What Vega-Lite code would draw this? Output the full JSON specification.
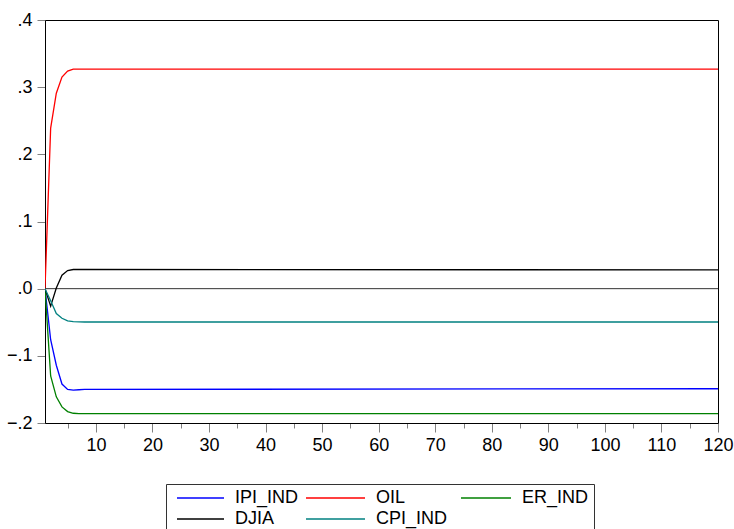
{
  "$schema": "https://vega.github.io/schema/vega-lite/v6.json",
  "width": 673,
  "height": 403,
  "autosize": {"type": "none"},
  "padding": {"left": 45, "top": 20, "right": 16, "bottom": 106},
  "background": "white",
  "config": {
    "font": "Liberation Sans",
    "view": {"stroke": "black", "strokeWidth": 1},
    "axis": {"grid": false, "labelFont": "Liberation Sans", "labelFontSize": 18, "labelColor": "black", "domainColor": "black", "tickColor": "#808080"}
  },
  "data": {
    "values": [
      {"t": 1, "s": "IPI_IND", "v": 0}, {"t": 2, "s": "IPI_IND", "v": -0.076}, {"t": 3, "s": "IPI_IND", "v": -0.114}, {"t": 4, "s": "IPI_IND", "v": -0.142}, {"t": 5, "s": "IPI_IND", "v": -0.150}, {"t": 6, "s": "IPI_IND", "v": -0.151}, {"t": 7, "s": "IPI_IND", "v": -0.1505}, {"t": 8, "s": "IPI_IND", "v": -0.150}, {"t": 120, "s": "IPI_IND", "v": -0.149},
      {"t": 1, "s": "OIL", "v": 0}, {"t": 2, "s": "OIL", "v": 0.239}, {"t": 3, "s": "OIL", "v": 0.291}, {"t": 4, "s": "OIL", "v": 0.315}, {"t": 5, "s": "OIL", "v": 0.324}, {"t": 6, "s": "OIL", "v": 0.327}, {"t": 7, "s": "OIL", "v": 0.327}, {"t": 8, "s": "OIL", "v": 0.327}, {"t": 120, "s": "OIL", "v": 0.327},
      {"t": 1, "s": "ER_IND", "v": 0}, {"t": 2, "s": "ER_IND", "v": -0.13}, {"t": 3, "s": "ER_IND", "v": -0.161}, {"t": 4, "s": "ER_IND", "v": -0.176}, {"t": 5, "s": "ER_IND", "v": -0.183}, {"t": 6, "s": "ER_IND", "v": -0.1855}, {"t": 7, "s": "ER_IND", "v": -0.186}, {"t": 8, "s": "ER_IND", "v": -0.186}, {"t": 120, "s": "ER_IND", "v": -0.186},
      {"t": 1, "s": "DJIA", "v": 0}, {"t": 2, "s": "DJIA", "v": -0.026}, {"t": 3, "s": "DJIA", "v": 0.001}, {"t": 4, "s": "DJIA", "v": 0.020}, {"t": 5, "s": "DJIA", "v": 0.027}, {"t": 6, "s": "DJIA", "v": 0.0285}, {"t": 7, "s": "DJIA", "v": 0.0285}, {"t": 8, "s": "DJIA", "v": 0.0285}, {"t": 120, "s": "DJIA", "v": 0.028},
      {"t": 1, "s": "CPI_IND", "v": 0}, {"t": 2, "s": "CPI_IND", "v": -0.018}, {"t": 3, "s": "CPI_IND", "v": -0.037}, {"t": 4, "s": "CPI_IND", "v": -0.044}, {"t": 5, "s": "CPI_IND", "v": -0.048}, {"t": 6, "s": "CPI_IND", "v": -0.049}, {"t": 7, "s": "CPI_IND", "v": -0.0495}, {"t": 8, "s": "CPI_IND", "v": -0.0496}, {"t": 120, "s": "CPI_IND", "v": -0.0496}
    ]
  },
  "layer": [
    {
      "mark": {"type": "rule", "color": "#333333", "strokeWidth": 1},
      "data": {"values": [{"z": 0}]},
      "encoding": {
        "y": {"field": "z", "type": "quantitative", "scale": {"domain": [-0.2, 0.4], "nice": false, "zero": false}},
        "x": {"datum": 1, "type": "quantitative", "axis": {"orient": "bottom", "values": [5, 15, 25, 35, 45, 55, 65, 75, 85, 95, 105, 115], "labels": false, "domain": false, "tickSize": 5, "title": null}},
        "x2": {"datum": 120}
      }
    },
    {
      "mark": {"type": "line", "strokeWidth": 1.3, "clip": true},
      "encoding": {
        "x": {"field": "t", "type": "quantitative", "scale": {"domain": [1, 120], "nice": false, "zero": false},
              "axis": {"orient": "bottom", "values": [10, 20, 30, 40, 50, 60, 70, 80, 90, 100, 110, 120], "tickSize": 9, "labelPadding": 4, "title": null, "labelFlush": false}},
        "y": {"field": "v", "type": "quantitative", "scale": {"domain": [-0.2, 0.4], "nice": false, "zero": false},
              "axis": {"values": [-0.2, -0.1, 0, 0.1, 0.2, 0.3, 0.4], "tickSize": 8, "labelPadding": 5, "title": null, "labelExpr": "replace(format(datum.value, '.1f'), '0.', '.')"}},
        "color": {
          "field": "s", "type": "nominal",
          "sort": ["IPI_IND", "OIL", "ER_IND", "DJIA", "CPI_IND"],
          "scale": {"domain": ["IPI_IND", "OIL", "ER_IND", "DJIA", "CPI_IND"], "range": ["#0000FF", "#FF0000", "#008000", "#000000", "#008080"]},
          "legend": {
            "title": null, "orient": "none", "legendX": 121, "legendY": 464,
            "direction": "horizontal", "columns": 3, "columnPadding": 1, "rowPadding": 3,
            "symbolType": "M-10,0H10", "symbolSize": 16, "symbolStrokeWidth": 1.3,
            "labelFontSize": 18, "labelFont": "Liberation Sans", "labelColor": "black", "labelOffset": 12,
            "fillColor": "white", "strokeColor": "#333333", "padding": 5,
            "encode": {
              "symbols": {"update": {
                "size": {"signal": "(datum.value === 'OIL' || datum.value === 'CPI_IND') ? 34.8 : (datum.value === 'ER_IND' ? 25 : 22.1)"},
                "x": {"signal": "(datum.value === 'ER_IND' ? 12 : 6) + ((datum.value === 'OIL' || datum.value === 'CPI_IND') ? 59 : (datum.value === 'ER_IND' ? 50 : 47)) / 2"}
              }},
              "labels": {"update": {
                "x": {"signal": "(datum.value === 'ER_IND' ? 12 : 6) + 11 + ((datum.value === 'OIL' || datum.value === 'CPI_IND') ? 59 : (datum.value === 'ER_IND' ? 50 : 47))"}
              }}
            }
          }
        }
      }
    }
  ],
  "resolve": {"axis": {"x": "independent"}}
}
